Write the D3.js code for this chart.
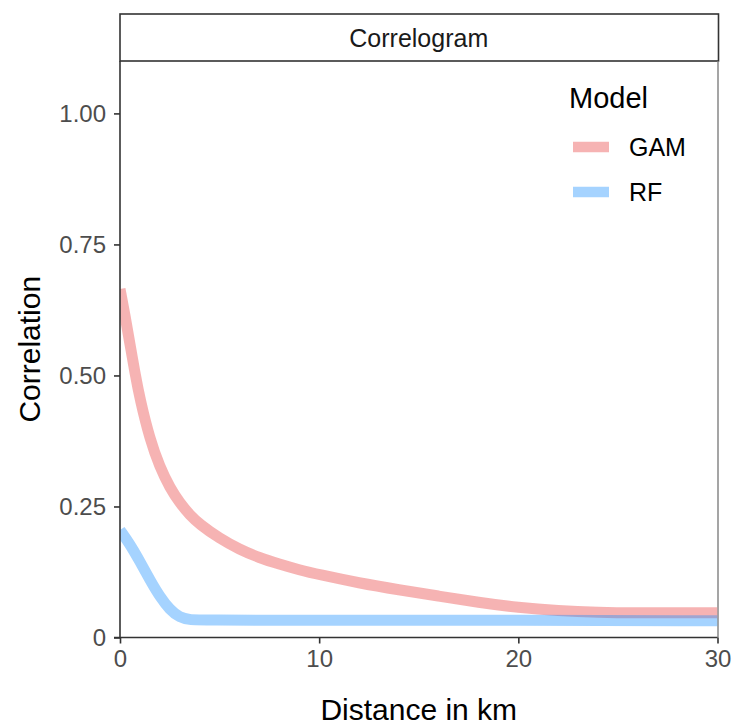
<!DOCTYPE html>
<html>
<head>
<meta charset="utf-8">
<script src="https://cdn.jsdelivr.net/npm/d3@7"></script>
<style>
  html, body { margin: 0; padding: 0; background: #ffffff; }
  svg { display: block; font-family: "Liberation Sans", Arial, Helvetica, sans-serif; }
</style>
</head>
<body>
<svg id="chart" width="736" height="727"></svg>
<script>
// Correlogram of model residuals: correlation against distance (km)
const panelTitle = "Correlogram";
const xTitle = "Distance in km";
const yTitle = "Correlation";
const legendTitle = "Model";
const models = ["GAM", "RF"];

const gamDistance = [0, 0.25, 0.5, 0.75, 1, 1.5, 2, 2.5, 3, 3.5, 4, 5, 6, 7, 8, 9, 10, 12, 14, 16, 18, 20, 22, 24, 26, 28, 30];
const gamCorrelation = [0.665, 0.615, 0.56, 0.505, 0.455, 0.378, 0.325, 0.286, 0.257, 0.234, 0.216, 0.189, 0.168, 0.152, 0.14, 0.129, 0.12, 0.104, 0.091, 0.079, 0.067, 0.057, 0.051, 0.048, 0.047, 0.047, 0.047];

const rfDistance = [0, 0.5, 1, 1.5, 2, 2.5, 3, 3.5, 4, 10, 20, 30];
const rfCorrelation = [0.205, 0.178, 0.145, 0.11, 0.078, 0.053, 0.038, 0.034, 0.033, 0.033, 0.033, 0.032];

const xTicks = [0, 10, 20, 30];
const yTicks = [0, 0.25, 0.5, 0.75, 1.0];
const yTickLabels = ["0", "0.25", "0.50", "0.75", "1.00"];

const colors = { GAM: "#f08080", RF: "#1e90ff" };
const opacities = { GAM: 0.6, RF: 0.4 };

const series = [
  { name: "GAM", values: gamDistance.map((d, i) => ({ x: d, y: gamCorrelation[i] })) },
  { name: "RF", values: rfDistance.map((d, i) => ({ x: d, y: rfCorrelation[i] })) }
];

const svg = d3.select("#chart");
const panel = { left: 120, right: 717.5, top: 61, bottom: 637.5 };

const x = d3.scaleLinear().domain([0, 30]).range([panel.left, panel.right]);
const y = d3.scaleLinear().domain([0, 1.1]).range([panel.bottom, panel.top]);

// strip header
svg.append("rect")
  .attr("x", panel.left).attr("y", 14)
  .attr("width", panel.right - panel.left + 1).attr("height", panel.top - 14)
  .attr("fill", "#ffffff").attr("stroke", "#333333").attr("stroke-width", 1.6);
svg.append("text")
  .attr("x", (panel.left + panel.right) / 2).attr("y", 47)
  .attr("text-anchor", "middle").attr("font-size", 25).attr("fill", "#1a1a1a")
  .text(panelTitle);

// panel frame on the right
svg.append("line")
  .attr("x1", panel.right + 0.5).attr("x2", panel.right + 0.5)
  .attr("y1", panel.top).attr("y2", panel.bottom)
  .attr("stroke", "#7f7f7f").attr("stroke-width", 1.4);

// lines
svg.append("clipPath").attr("id", "panel-clip")
  .append("rect")
  .attr("x", panel.left).attr("y", panel.top)
  .attr("width", panel.right - panel.left).attr("height", panel.bottom - panel.top);

const line = d3.line()
  .x(d => x(d.x))
  .y(d => y(d.y))
  .curve(d3.curveBasis);

svg.append("g").attr("clip-path", "url(#panel-clip)")
  .selectAll("path")
  .data(series)
  .join("path")
  .attr("d", d => line(d.values))
  .attr("fill", "none")
  .attr("stroke", d => colors[d.name])
  .attr("stroke-opacity", d => opacities[d.name])
  .attr("stroke-width", 11)
  .attr("stroke-linecap", "butt");

// axes
const xAxis = svg.append("g")
  .attr("transform", `translate(0,${panel.bottom})`)
  .call(d3.axisBottom(x).tickValues(xTicks).tickSize(6).tickPadding(6).tickFormat(d3.format("d")));
const yAxis = svg.append("g")
  .attr("transform", `translate(${panel.left},0)`)
  .call(d3.axisLeft(y).tickValues(yTicks).tickSize(6).tickPadding(8).tickFormat((d, i) => yTickLabels[i]));

[xAxis, yAxis].forEach(g => {
  g.select(".domain").attr("stroke", "#333333").attr("stroke-width", 1.6);
  g.selectAll(".tick line").attr("stroke", "#333333").attr("stroke-width", 1.6);
  g.selectAll(".tick text").attr("font-size", 24).attr("fill", "#4d4d4d")
    .attr("font-family", "'Liberation Sans', Arial, sans-serif");
});
xAxis.select(".domain").attr("d", `M${panel.left - 6},0H${panel.right}`);
yAxis.select(".domain").attr("d", `M0,${panel.top}V${panel.bottom}`);

// axis titles
svg.append("text")
  .attr("x", (panel.left + panel.right) / 2).attr("y", 720)
  .attr("text-anchor", "middle").attr("font-size", 30).attr("fill", "#000000")
  .text(xTitle);
svg.append("text")
  .attr("transform", `translate(40,${(panel.top + panel.bottom) / 2}) rotate(-90)`)
  .attr("text-anchor", "middle").attr("font-size", 30).attr("fill", "#000000")
  .text(yTitle);

// legend
const legend = svg.append("g");
legend.append("text")
  .attr("x", 569).attr("y", 108)
  .attr("font-size", 29).attr("fill", "#000000")
  .text(legendTitle);
const keyY = [147, 192];
models.forEach((m, i) => {
  legend.append("line")
    .attr("x1", 573).attr("x2", 609)
    .attr("y1", keyY[i]).attr("y2", keyY[i])
    .attr("stroke", colors[m]).attr("stroke-opacity", opacities[m])
    .attr("stroke-width", 10.5);
  legend.append("text")
    .attr("x", 629).attr("y", keyY[i] + 9)
    .attr("font-size", 25).attr("fill", "#000000")
    .text(m);
});
</script>
</body>
</html>
